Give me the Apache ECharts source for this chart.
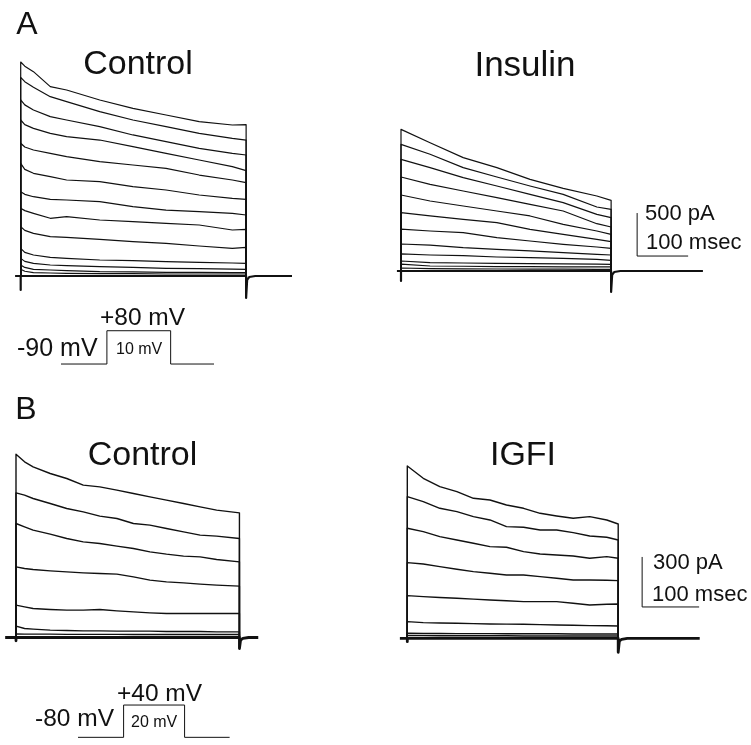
<!DOCTYPE html>
<html><head><meta charset="utf-8">
<script src="https://cdn.jsdelivr.net/npm/echarts@6/dist/echarts.min.js"></script>
<style>html,body{margin:0;padding:0;background:#fff}#c{width:751px;height:745px}</style>
</head><body><div id="c"></div>
<script>
// ---------------- DATA (time in ms, current in pA, voltage in mV) ----------------
// Panel A, Control
const aCtrlTime = [0, 8, 25, 58, 90, 155, 220, 285, 350, 415, 442];
const aCtrlTraces = [
  [2488, 2440, 2376, 2202, 2163, 2047, 1950, 1872, 1795, 1756, 1760],
  [2310, 2260, 2194, 2085, 2027, 1911, 1814, 1736, 1659, 1601, 1581],
  [2047, 1990, 1930, 1853, 1814, 1736, 1640, 1562, 1485, 1426, 1407],
  [1814, 1760, 1717, 1659, 1620, 1581, 1504, 1426, 1349, 1271, 1225],
  [1543, 1500, 1465, 1426, 1388, 1330, 1291, 1252, 1174, 1116, 1085],
  [1310, 1240, 1194, 1155, 1116, 1097, 1039, 1000, 942, 903, 891],
  [981, 950, 922, 891, 884, 864, 806, 767, 748, 729, 709],
  [787, 760, 729, 671, 690, 651, 632, 612, 593, 535, 543],
  [574, 530, 496, 457, 450, 426, 399, 380, 349, 322, 333],
  [322, 275, 244, 217, 205, 186, 178, 167, 159, 151, 147],
  [205, 170, 147, 128, 120, 109, 101, 89, 85, 81, 78],
  [128, 100, 78, 70, 62, 50, 47, 43, 43, 39, 39],
  [78, 55, 39, 35, 31, 27, 27, 23, 23, 23, 23]
];
const aCtrlBaseTime = [-11, 0, 0, 0, 442, 442, 444, 448, 460, 532];
const aCtrlBaseVal  = [0, 0, -163, 0, 0, -256, -45, -12, 0, 0];

// Panel A, Insulin
const aInsTime = [0, 57, 122, 188, 253, 318, 384, 412];
const aInsTraces = [
  [1647, 1492, 1318, 1202, 1066, 961, 872, 822],
  [1473, 1357, 1202, 1093, 988, 891, 744, 717],
  [1298, 1202, 1085, 988, 891, 795, 659, 620],
  [1093, 1008, 930, 853, 775, 698, 550, 512],
  [884, 814, 756, 698, 640, 543, 465, 426],
  [678, 640, 601, 562, 485, 426, 368, 341],
  [488, 465, 446, 388, 349, 310, 279, 264],
  [314, 302, 271, 252, 233, 213, 194, 186],
  [198, 186, 178, 163, 155, 147, 136, 124],
  [116, 97, 93, 89, 85, 83, 80, 78],
  [81, 58, 55, 52, 50, 49, 48, 47],
  [35, 28, 25, 23, 22, 21, 20, 19]
];
const aInsBaseTime = [-8, 0, 0, 0, 412, 412, 414, 418, 430, 592];
const aInsBaseVal  = [0, 0, -116, 0, 0, -244, -45, -12, 0, 0];
const aScaleBar = {ms: 100, pA: 500};

// Panel B, Control
const bCtrlTime = [0, 15, 30, 60, 89, 118, 147, 177, 206, 235, 264, 294, 323, 352, 392];
const bCtrlTraces = [
  [1100, 1054, 1024, 984, 954, 914, 904, 884, 864, 844, 824, 804, 784, 764, 748],
  [868, 854, 834, 804, 774, 754, 728, 714, 684, 674, 654, 634, 614, 608, 594],
  [684, 664, 644, 620, 594, 574, 564, 548, 534, 514, 500, 488, 484, 468, 454],
  [424, 414, 408, 400, 394, 388, 384, 380, 364, 344, 334, 328, 320, 314, 308],
  [194, 184, 174, 168, 164, 164, 168, 160, 154, 148, 144, 144, 144, 144, 144],
  [68, 54, 50, 44, 42, 40, 40, 38, 38, 38, 36, 36, 36, 34, 34],
  [22, 20, 20, 20, 19, 19, 19, 19, 18, 18, 18, 18, 18, 18, 18]
];
const bCtrlBaseTime = [-19, 0, 0, 0, 392, 392, 394, 398, 408, 425];
const bCtrlBaseVal  = [0, 0, -20, 0, 0, -66, -15, -5, 0, 0];

// Panel B, IGFI
const bIgfTime = [0, 28, 57, 87, 116, 145, 174, 204, 233, 262, 291, 320, 350, 370];
const bIgfTraces = [
  [1034, 960, 910, 880, 840, 830, 800, 780, 750, 734, 720, 730, 710, 686],
  [850, 820, 780, 760, 730, 710, 670, 666, 650, 650, 634, 614, 606, 590],
  [660, 640, 610, 590, 570, 550, 546, 520, 506, 500, 494, 480, 490, 480],
  [454, 446, 430, 414, 400, 390, 380, 380, 370, 360, 350, 350, 348, 346],
  [256, 250, 245, 240, 235, 230, 225, 220, 220, 220, 210, 200, 204, 206],
  [100, 94, 92, 90, 88, 86, 85, 84, 82, 80, 78, 76, 75, 74],
  [30, 29, 29, 28, 28, 28, 27, 27, 27, 27, 26, 26, 26, 26],
  [16, 16, 15, 15, 15, 15, 15, 14, 14, 14, 14, 14, 14, 14]
];
const bIgfBaseTime = [-13, 0, 0, 0, 370, 370, 372, 376, 386, 513];
const bIgfBaseVal  = [0, 0, -20, 0, 0, -84, -18, -6, 0, 0];
const bScaleBar = {ms: 100, pA: 300};

// Voltage protocols (schematic)
const protoATime = [0, 90, 90, 215, 215, 300];
const protoAVolt = [-90, -90, 80, 80, -90, -90];
const protoBTime = [0, 80, 80, 187, 187, 266];
const protoBVolt = [-80, -80, 40, 40, -80, -80];

// ---------------- LAYOUT ----------------
const FONT = '"Liberation Sans", Arial, Helvetica, sans-serif';
const INK = '#111';
const panels = [
  {ox: 20.7,  oy: 276,   sx: 0.51, sy: 43/500, xMin: -15, xMax: 545, yMin: -320, yMax: 2600},
  {ox: 401,   oy: 271,   sx: 0.51, sy: 43/500, xMin: -15, xMax: 600, yMin: -320, yMax: 2000},
  {ox: 16,    oy: 637.5, sx: 0.57, sy: 50/300, xMin: -25, xMax: 460, yMin: -120, yMax: 1200},
  {ox: 407.3, oy: 638.3, sx: 0.57, sy: 50/300, xMin: -20, xMax: 560, yMin: -120, yMax: 1200},
  {ox: 61,    oy: 346.4, sx: 0.51, sy: 33.3/170, xMin: -10, xMax: 310, yMin: -100, yMax: 100},
  {ox: 78,    oy: 715.8, sx: 0.57, sy: 32.3/120, xMin: -10, xMax: 280, yMin: -100, yMax: 60}
];
const grid = [], xAxis = [], yAxis = [];
panels.forEach((p, i) => {
  grid.push({left: p.ox + p.xMin * p.sx, top: p.oy - p.yMax * p.sy,
             width: (p.xMax - p.xMin) * p.sx, height: (p.yMax - p.yMin) * p.sy});
  xAxis.push({type: 'value', gridIndex: i, min: p.xMin, max: p.xMax, show: false});
  yAxis.push({type: 'value', gridIndex: i, min: p.yMin, max: p.yMax, show: false});
});

const series = [];
function line(idx, data, width) {
  series.push({type: 'line', xAxisIndex: idx, yAxisIndex: idx, data: data,
    showSymbol: false, symbol: 'none', silent: true, animation: false, clip: false,
    lineStyle: {color: INK, width: width, join: 'round'}});
}
function zip(t, v) { return t.map((x, i) => [x, v[i]]); }
function addTraces(idx, times, traces, w) {
  traces.forEach(vals => {
    const d = [[0, 0]].concat(zip(times, vals));
    d.push([times[times.length - 1], 0]);
    line(idx, d, w);
  });
}
addTraces(0, aCtrlTime, aCtrlTraces, 1.2);
line(0, zip(aCtrlBaseTime, aCtrlBaseVal), 2.2);
addTraces(1, aInsTime, aInsTraces, 1.2);
line(1, zip(aInsBaseTime, aInsBaseVal), 2.2);
addTraces(2, bCtrlTime, bCtrlTraces, 1.4);
line(2, zip(bCtrlBaseTime, bCtrlBaseVal), 2.8);
addTraces(3, bIgfTime, bIgfTraces, 1.4);
line(3, zip(bIgfBaseTime, bIgfBaseVal), 2.8);
line(4, zip(protoATime, protoAVolt), 1);
line(5, zip(protoBTime, protoBVolt), 1);

// scale bars (anchored in the right-hand panels' own units)
const sbA = {t: 463, v: 174};
line(1, [[sbA.t, sbA.v + aScaleBar.pA], [sbA.t, sbA.v], [sbA.t + aScaleBar.ms, sbA.v]], 1);
const sbB = {t: 412, v: 188};
line(3, [[sbB.t, sbB.v + bScaleBar.pA], [sbB.t, sbB.v], [sbB.t + bScaleBar.ms, sbB.v]], 1);

function txt(s, x, y, size, align) {
  return {type: 'text', x: x, y: y, silent: true,
    style: {text: s, fill: INK, font: size + 'px ' + FONT, textAlign: align || 'left', textVerticalAlign: 'middle'}};
}
const graphic = [
  txt('A', 27, 25, 32, 'center'),
  txt('Control', 138, 65, 34, 'center'),
  txt('Insulin', 525, 66, 35, 'center'),
  txt('500 pA', 645, 214, 22),
  txt('100 msec', 646, 243, 22),
  txt('+80 mV', 100, 318, 24.5),
  txt('-90 mV', 17, 349, 25),
  txt('10 mV', 116, 350, 16),
  txt('B', 26, 410, 32, 'center'),
  txt('Control', 142.5, 456, 34, 'center'),
  txt('IGFI', 523, 456, 34, 'center'),
  txt('300 pA', 653, 563, 22),
  txt('100 msec', 652, 595, 22),
  txt('+40 mV', 117, 694, 24.5),
  txt('-80 mV', 35, 719, 24.5),
  txt('20 mV', 131, 723, 16)
];

const chart = echarts.init(document.getElementById('c'), null, {renderer: 'canvas'});
chart.setOption({animation: false, backgroundColor: '#fff', grid, xAxis, yAxis, series, graphic});
</script>
</body></html>
